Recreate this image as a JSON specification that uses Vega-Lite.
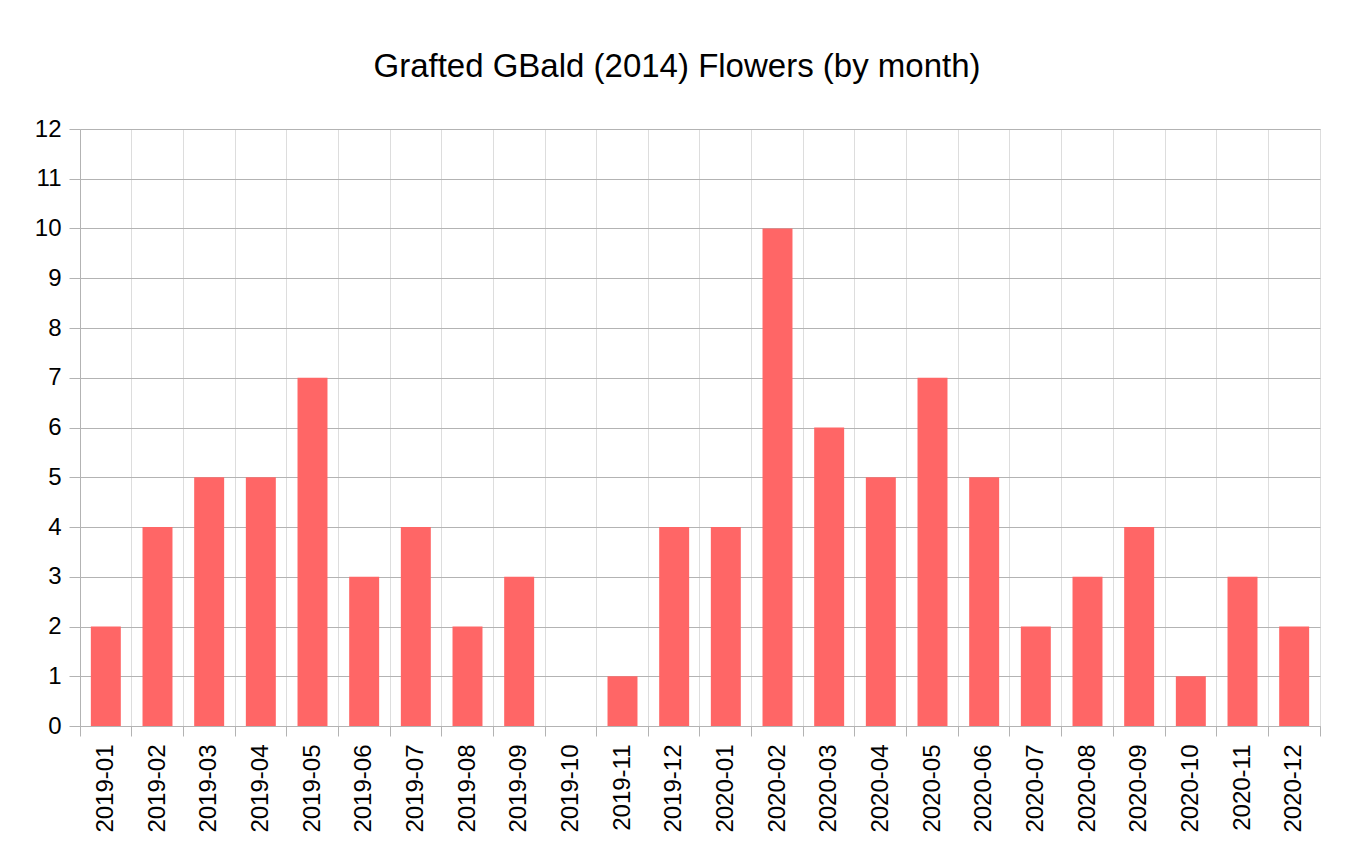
{
  "$schema": "https://vega.github.io/schema/vega-lite/v6.json",
  "autosize": {"type": "none"},
  "width": 1240,
  "height": 597,
  "padding": {"left": 80, "top": 129, "right": 30, "bottom": 122},
  "background": "white",
  "title": {
    "text": "Grafted GBald (2014) Flowers (by month)",
    "font": "Liberation Sans",
    "fontSize": 33,
    "fontWeight": "normal",
    "color": "#000000",
    "anchor": "middle",
    "dx": -23,
    "offset": 33
  },
  "config": {
    "view": {"stroke": "#dddddd"},
    "font": "Liberation Sans"
  },
  "data": {
    "values": [
      {"month": "2019-01", "flowers": 2},
      {"month": "2019-02", "flowers": 4},
      {"month": "2019-03", "flowers": 5},
      {"month": "2019-04", "flowers": 5},
      {"month": "2019-05", "flowers": 7},
      {"month": "2019-06", "flowers": 3},
      {"month": "2019-07", "flowers": 4},
      {"month": "2019-08", "flowers": 2},
      {"month": "2019-09", "flowers": 3},
      {"month": "2019-10", "flowers": 0},
      {"month": "2019-11", "flowers": 1},
      {"month": "2019-12", "flowers": 4},
      {"month": "2020-01", "flowers": 4},
      {"month": "2020-02", "flowers": 10},
      {"month": "2020-03", "flowers": 6},
      {"month": "2020-04", "flowers": 5},
      {"month": "2020-05", "flowers": 7},
      {"month": "2020-06", "flowers": 5},
      {"month": "2020-07", "flowers": 2},
      {"month": "2020-08", "flowers": 3},
      {"month": "2020-09", "flowers": 4},
      {"month": "2020-10", "flowers": 1},
      {"month": "2020-11", "flowers": 3},
      {"month": "2020-12", "flowers": 2}
    ]
  },
  "mark": {"type": "bar", "color": "#ff6666", "width": {"band": 0.58}},
  "encoding": {
    "x": {
      "field": "month",
      "type": "ordinal",
      "sort": null,
      "scale": {"paddingInner": 0, "paddingOuter": 0},
      "axis": {
        "title": null,
        "labelAngle": -90,
        "labelFontSize": 24,
        "labelColor": "#000000",
        "labelPadding": 8,
        "tickSize": 10,
        "tickColor": "#b3b3b3",
        "domainColor": "#b3b3b3",
        "grid": true,
        "gridColor": "#dddddd",
        "bandPosition": 1,
        "tickExtra": true
      }
    },
    "y": {
      "field": "flowers",
      "type": "quantitative",
      "scale": {"domain": [0, 12], "nice": false},
      "axis": {
        "title": null,
        "values": [0, 1, 2, 3, 4, 5, 6, 7, 8, 9, 10, 11, 12],
        "labelFontSize": 24,
        "labelColor": "#000000",
        "labelPadding": 8,
        "tickSize": 11,
        "tickColor": "#b3b3b3",
        "domainColor": "#b3b3b3",
        "gridColor": "#b3b3b3"
      }
    }
  }
}
